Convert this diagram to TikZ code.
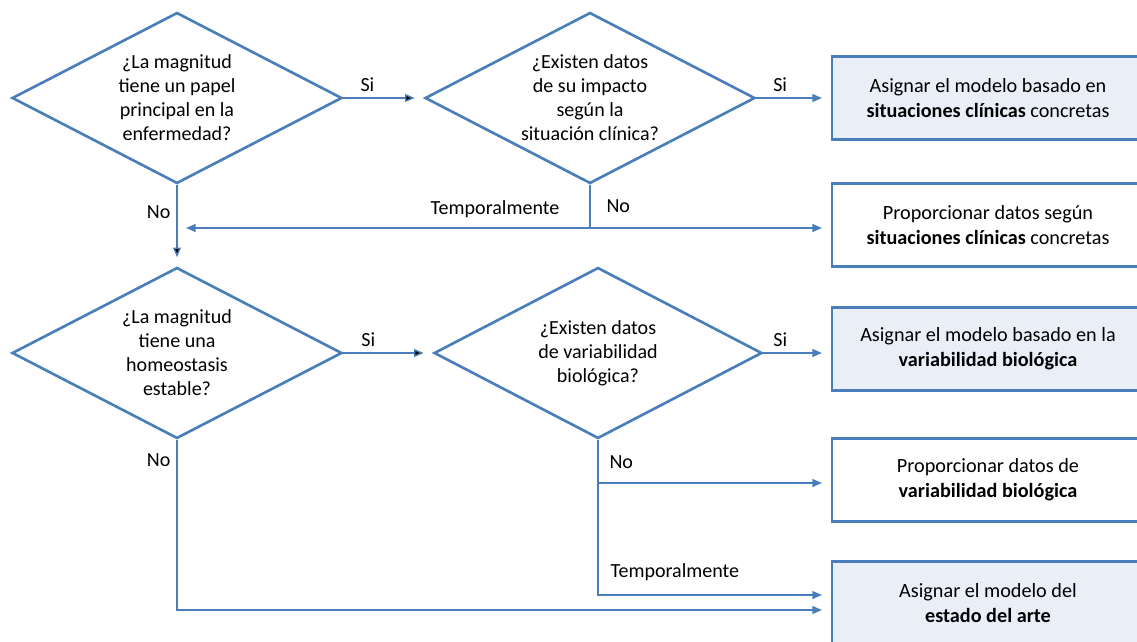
\documentclass[tikz,border=0pt]{standalone}
\usepackage{fontspec}
\setmainfont{Carlito}
\usepackage{tikz}
\usetikzlibrary{positioning,calc,arrows.meta,shapes.geometric}
\definecolor{lineblue}{HTML}{4A7EBB}
\definecolor{boxfill}{HTML}{EAEFF7}

\tikzset{
	quest/.style={diamond, aspect=1.93, draw=lineblue, line width=1.5pt, minimum width=6.6cm, minimum height=3.42cm, inner sep=0pt, align=center},
	result/.style={rectangle, draw=lineblue, line width=1.2pt, minimum width=6.24cm, minimum height=1.66cm, align=center, font=\fontsize{11.5}{14.2}\selectfont},
	chosen/.style={result, fill=boxfill},
	conn/.style={draw=lineblue, line width=0.8pt, -{Triangle[length=5.5pt,width=4.5pt]}, shorten >=0.18cm}
}

\begin{document}
\begin{tikzpicture}[x=0.02cm, y=-0.02cm, font=\fontsize{11.4}{13.7}\selectfont]
	\useasboundingbox (0,0) rectangle (1137,642);
	\node[quest] (Q1) at (177,98) {¿La magnitud\\tiene un papel\\principal en la\\enfermedad?};
	\node[quest] (Q2) at (590,98) {¿Existen datos\\de su impacto\\según la\\situación clínica?};
	\node[quest] (Q3) at (177,353) {¿La magnitud\\tiene una\\homeostasis\\estable?};
	\node[quest, minimum width=6.56cm] (Q4) at (598,353) {¿Existen datos\\de variabilidad\\biológica?};
	\node[chosen] (A1) at (988,98) {Asignar el modelo basado en\\\textbf{situaciones clínicas} concretas};
	\node[result] (P1) at (988,225) {Proporcionar datos según\\\textbf{situaciones clínicas} concretas};
	\node[chosen] (A2) at (988,349) {Asignar el modelo basado en la\\\textbf{variabilidad biológica}};
	\node[result] (P2) at (988,480) {Proporcionar datos de\\\textbf{variabilidad biológica}};
	\node[chosen] (A3) at (988,603) {Asignar el modelo del\\\textbf{estado del arte}};
	\coordinate (J1) at (Q2 |- 0,228);
	\coordinate (J2) at (Q4 |- 0,483);
	\coordinate (J3) at (Q4 |- 0,595);
	\coordinate (J4) at (Q3 |- 0,610);

	\draw[conn] (Q1) edge node[above, pos=0.3] {Si} (Q2);
	\draw[conn] (Q2) -- node[above, pos=0.32] {Si} (Q2 -| A1.west);
	\draw[conn] (Q1) edge node[left, pos=0.34] {No} (Q3);
	\draw[conn] (Q2) -- node[right=0.2cm, pos=0.5] {No} (J1) -- (J1 -| P1.west);
	\draw[conn] (J1) -- node[above, yshift=0.08cm, pos=0.23] {Temporalmente} (J1 -| Q1);
	\draw[conn] (Q3) edge node[above, pos=0.28] {Si} (Q4);
	\draw[conn] (Q4) -- node[above, pos=0.25] {Si} (Q4 -| A2.west);
	\draw[conn] (Q4) -- (J2) -- node[above, yshift=0.16cm, pos=0.1] {No} (J2 -| P2.west);
	\draw[conn] (J2) -- (J3) -- node[above, yshift=0.16cm, pos=0.33] {Temporalmente} (J3 -| A3.west);
	\draw[conn] (Q3) -- node[left, pos=0.12] {No} (J4) -- (J4 -| A3.west);
\end{tikzpicture}
\end{document}
